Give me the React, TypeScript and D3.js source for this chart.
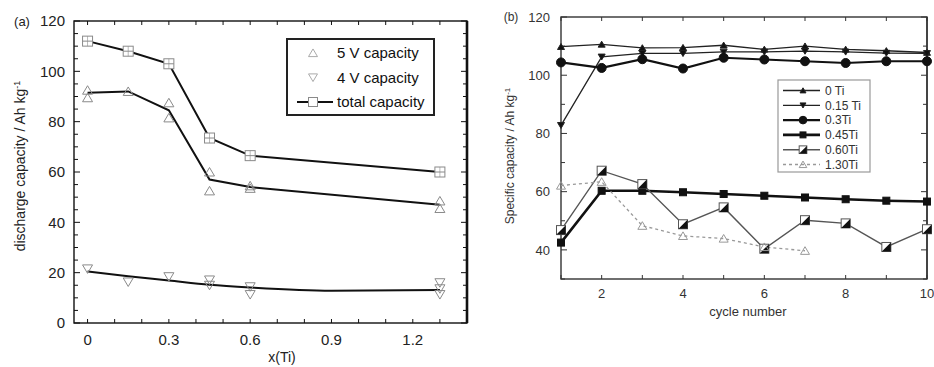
import React from "react";
import * as d3 from "d3";

// ---- Panel (a): discharge capacity vs Ti content ----
const tiContent = [0, 0.15, 0.3, 0.45, 0.6, 1.3];
const totalCapacity = [112, 108, 103, 73.5, 66.5, 60];
const fiveVFit = [91.5, 92, 84.5, 57, 54, 47];
const fiveVPointsX = [0, 0, 0.15, 0.3, 0.3, 0.45, 0.45, 0.6, 0.6, 1.3, 1.3];
const fiveVPointsY = [92.5, 89.5, 92, 87.5, 81.5, 60, 52.5, 54.5, 53.5, 48.5, 45.5];
const fourVFitX = [0, 0.15, 0.3, 0.45, 0.6, 0.9, 1.3];
const fourVFitY = [20.5, 18.6, 16.9, 15.2, 14.1, 12.8, 13.1];
const fourVPointsX = [0, 0.15, 0.3, 0.45, 0.45, 0.6, 0.6, 1.3, 1.3, 1.3];
const fourVPointsY = [21.5, 16.3, 18.4, 17.1, 15, 14.4, 11.3, 16, 13.6, 11.3];
const panelATicksX = [0, 0.3, 0.6, 0.9, 1.2];
const panelATicksY = [0, 20, 40, 60, 80, 100, 120];
const panelALegend = ["5 V capacity", "4 V capacity", "total capacity"];

// ---- Panel (b): specific capacity vs cycle number ----
const cycles = [1, 2, 3, 4, 5, 6, 7, 8, 9, 10];
const ti000 = [109.8, 110.6, 109.4, 109.5, 110.3, 108.9, 110, 108.9, 108.4, 107.8];
const ti015 = [82.8, 106.3, 107.5, 107.5, 108, 108, 108.3, 108, 107.6, 107.5];
const ti030 = [104.4, 102.5, 105.5, 102.3, 106, 105.4, 104.8, 104.2, 104.8, 104.8];
const ti045 = [42.5, 60.3, 60.3, 59.8, 59.2, 58.6, 58, 57.4, 56.9, 56.6];
const ti060 = [46.8, 67.2, 62.6, 48.8, 54.6, 40.4, 50.2, 49.1, 41, 47.1];
const cycles130 = [1, 2, 3, 4, 5, 6, 7];
const ti130 = [62.1, 63.4, 48.3, 44.8, 43.9, 41, 39.7];
const panelBTicksX = [2, 4, 6, 8, 10];
const panelBTicksY = [40, 60, 80, 100, 120];
const panelBLegend = ["0 Ti", "0.15 Ti", "0.3Ti", "0.45Ti", "0.60Ti", "1.30Ti"];

const FONT = "'Liberation Sans', Arial, Helvetica, sans-serif";

type Marker = "tri" | "triDown" | "circle" | "square" | "halfSquare" | "openTri";

function Mark({ kind, x, y, size, stroke, fill }: { kind: Marker; x: number; y: number; size: number; stroke: string; fill: string }) {
  const h = size / 2;
  if (kind === "circle") return <circle cx={x} cy={y} r={h} fill={fill} stroke={stroke} strokeWidth={1} />;
  if (kind === "square")
    return <rect x={x - h} y={y - h} width={size} height={size} fill={fill} stroke={stroke} strokeWidth={1} />;
  if (kind === "halfSquare")
    return (
      <g>
        <rect x={x - h} y={y - h} width={size} height={size} fill="#fff" stroke={stroke} strokeWidth={1} />
        <path d={`M${x + h},${y - h}L${x + h},${y + h}L${x - h},${y + h}Z`} fill="#111" />
      </g>
    );
  const down = kind === "triDown";
  const p = d3.path();
  if (down) {
    p.moveTo(x - h, y - h * 0.8);
    p.lineTo(x + h, y - h * 0.8);
    p.lineTo(x, y + h * 0.9);
  } else {
    p.moveTo(x - h, y + h * 0.8);
    p.lineTo(x + h, y + h * 0.8);
    p.lineTo(x, y - h * 0.9);
  }
  p.closePath();
  return <path d={p.toString()} fill={fill} stroke={stroke} strokeWidth={1} />;
}

function Frame({ x, y, left, right, top, bottom, xMinor, yMinor, stroke, rightWidth }: any) {
  const els: any[] = [];
  xMinor.forEach((t: number, i: number) => {
    const px = x(t);
    els.push(<line key={`xb${i}`} x1={px} x2={px} y1={bottom} y2={bottom - 4} stroke={stroke} />);
    els.push(<line key={`xt${i}`} x1={px} x2={px} y1={top} y2={top + 4} stroke={stroke} />);
  });
  yMinor.forEach((t: number, i: number) => {
    const py = y(t);
    const major = t % 20 === 0;
    const len = major ? 6 : 4;
    els.push(<line key={`yl${i}`} x1={left} x2={left + len} y1={py} y2={py} stroke={stroke} />);
    els.push(<line key={`yr${i}`} x1={right} x2={right - len} y1={py} y2={py} stroke={stroke} />);
  });
  return (
    <g>
      {els}
      <rect x={left} y={top} width={right - left} height={bottom - top} fill="none" stroke={stroke} strokeWidth={1.4} />
      <line x1={right} x2={right} y1={top} y2={bottom} stroke={stroke} strokeWidth={rightWidth} />
    </g>
  );
}

function PanelA() {
  const left = 74, right = 467, top = 21, bottom = 323;
  const x = d3.scaleLinear().domain([-0.05, 1.4]).range([left, right]);
  const y = d3.scaleLinear().domain([0, 120]).range([bottom, top]);
  const line = d3.line<[number, number]>().x((d) => x(d[0])).y((d) => y(d[1]));
  const smooth = d3
    .line<[number, number]>()
    .x((d) => x(d[0]))
    .y((d) => y(d[1]))
    .curve(d3.curveMonotoneX);
  const markerStroke = "#8a8a8a";
  const xMinor = d3.range(0, 1.35, 0.1);
  const yMinor = d3.range(0, 121, 5);
  const legX = 287, legY = 39;
  return (
    <g fontFamily={FONT}>
      <Frame x={x} y={y} left={left} right={right} top={top} bottom={bottom} xMinor={xMinor} yMinor={yMinor} stroke="#111" rightWidth={2.6} />
      {panelATicksY.map((t) => (
        <text key={t} x={65} y={y(t)} dy="0.36em" textAnchor="end" fontSize={15} fill="#222">
          {t}
        </text>
      ))}
      {panelATicksX.map((t) => (
        <text key={t} x={x(t)} y={345} textAnchor="middle" fontSize={15} fill="#222">
          {d3.format("")(t)}
        </text>
      ))}
      <text x={22} y={21} dy="0.36em" textAnchor="middle" fontSize={13} fill="#222">(a)</text>
      <text x={282} y={362} textAnchor="middle" fontSize={14} fill="#222">x(Ti)</text>
      <text transform="translate(25,166) rotate(-90)" textAnchor="middle" fontSize={14} fill="#222">
        discharge capacity / Ah kg<tspan dy={-5} fontSize={9}>-1</tspan>
      </text>

      <path d={line(tiContent.map((v, i) => [v, totalCapacity[i]]) as any) || ""} fill="none" stroke="#111" strokeWidth={2} />
      <path d={line(tiContent.map((v, i) => [v, fiveVFit[i]]) as any) || ""} fill="none" stroke="#111" strokeWidth={2} />
      <path d={smooth(fourVFitX.map((v, i) => [v, fourVFitY[i]]) as any) || ""} fill="none" stroke="#111" strokeWidth={2} />

      {fiveVPointsX.map((v, i) => (
        <Mark key={`a5${i}`} kind="tri" x={x(v)} y={y(fiveVPointsY[i])} size={10} stroke={markerStroke} fill="none" />
      ))}
      {fourVPointsX.map((v, i) => (
        <Mark key={`a4${i}`} kind="triDown" x={x(v)} y={y(fourVPointsY[i])} size={10} stroke={markerStroke} fill="none" />
      ))}
      {tiContent.map((v, i) => (
        <g key={`at${i}`}>
          <Mark kind="square" x={x(v)} y={y(totalCapacity[i])} size={10} stroke={markerStroke} fill="#fff" />
          <line x1={x(v) - 5} x2={x(v) + 5} y1={y(totalCapacity[i])} y2={y(totalCapacity[i])} stroke={markerStroke} />
          <line x1={x(v)} x2={x(v)} y1={y(totalCapacity[i]) - 5} y2={y(totalCapacity[i]) + 5} stroke={markerStroke} strokeWidth={0.6} />
        </g>
      ))}

      <rect x={legX} y={legY} width={147} height={76} fill="#fff" stroke="#222" strokeWidth={2} />
      {panelALegend.map((name, i) => {
        const cy = legY + 14 + i * 24.5;
        const mx = 313;
        return (
          <g key={name}>
            {i === 2 && <line x1={297} x2={333} y1={cy} y2={cy} stroke="#111" strokeWidth={2} />}
            {i === 0 && <Mark kind="tri" x={mx} y={cy} size={9} stroke="#aaa" fill="none" />}
            {i === 1 && <Mark kind="triDown" x={mx} y={cy} size={9} stroke="#aaa" fill="none" />}
            {i === 2 && <Mark kind="square" x={mx} y={cy} size={9} stroke={markerStroke} fill="#fff" />}
            <text x={337} y={cy} dy="0.36em" fontSize={15} fill="#111">{name}</text>
          </g>
        );
      })}
    </g>
  );
}

function PanelB() {
  const left = 561, right = 927, top = 17, bottom = 279;
  const x = d3.scaleLinear().domain([1, 10]).range([left, right]);
  const y = d3.scaleLinear().domain([30, 120]).range([bottom, top]);
  const line = d3.line<[number, number]>().x((d) => x(d[0])).y((d) => y(d[1]));
  const series = [
    { name: panelBLegend[0], xs: cycles, ys: ti000, kind: "tri" as Marker, size: 7, stroke: "#222", fill: "#111", width: 1.3, dash: "" },
    { name: panelBLegend[1], xs: cycles, ys: ti015, kind: "triDown" as Marker, size: 7, stroke: "#222", fill: "#111", width: 1.3, dash: "" },
    { name: panelBLegend[2], xs: cycles, ys: ti030, kind: "circle" as Marker, size: 9, stroke: "#111", fill: "#111", width: 2.2, dash: "" },
    { name: panelBLegend[3], xs: cycles, ys: ti045, kind: "square" as Marker, size: 7, stroke: "#111", fill: "#111", width: 2.6, dash: "" },
    { name: panelBLegend[4], xs: cycles, ys: ti060, kind: "halfSquare" as Marker, size: 9, stroke: "#555", fill: "#fff", width: 1.4, dash: "" },
    { name: panelBLegend[5], xs: cycles130, ys: ti130, kind: "openTri" as Marker, size: 9, stroke: "#999", fill: "none", width: 1.3, dash: "3,3" },
  ];
  const xMinor = d3.range(1, 11, 1);
  const yMinor = d3.range(30, 121, 10);
  const legX = 778, legY = 80;
  return (
    <g fontFamily={FONT}>
      <defs>
        <clipPath id="clipB">
          <rect x={left - 8} y={top - 8} width={right - left + 16} height={bottom - top + 16} />
        </clipPath>
      </defs>
      <Frame x={x} y={y} left={left} right={right} top={top} bottom={bottom} xMinor={xMinor} yMinor={yMinor} stroke="#333" rightWidth={1.4} />
      {panelBTicksY.map((t) => (
        <text key={t} x={550} y={y(t)} dy="0.36em" textAnchor="end" fontSize={13} fill="#333">
          {t}
        </text>
      ))}
      {panelBTicksX.map((t) => (
        <text key={t} x={x(t)} y={298} textAnchor="middle" fontSize={13} fill="#333">
          {t}
        </text>
      ))}
      <text x={511} y={17} dy="0.36em" textAnchor="middle" fontSize={12} fill="#333">(b)</text>
      <text x={748} y={316} textAnchor="middle" fontSize={13} fill="#333">cycle number</text>
      <text transform="translate(514,156) rotate(-90)" textAnchor="middle" fontSize={12} fill="#333">
        Specific capacity / Ah kg<tspan dy={-4} fontSize={8}>-1</tspan>
      </text>

      <g clipPath="url(#clipB)">
        {series.map((s) => (
          <path
            key={s.name}
            d={line(s.xs.map((v, i) => [v, s.ys[i]]) as any) || ""}
            fill="none"
            stroke={s.stroke}
            strokeWidth={s.width}
            strokeDasharray={s.dash || undefined}
          />
        ))}
        {series.map((s) =>
          s.xs.map((v, i) => (
            <Mark key={`${s.name}${i}`} kind={s.kind === "openTri" ? "tri" : s.kind} x={x(v)} y={y(s.ys[i])} size={s.size} stroke={s.stroke} fill={s.fill} />
          ))
        )}
      </g>

      <rect x={legX} y={legY} width={92} height={92} fill="#fff" stroke="#999" strokeWidth={1.2} />
      {series.map((s, i) => {
        const cy = legY + 10.5 + i * 14.8;
        return (
          <g key={`lg${s.name}`}>
            <line x1={783} x2={820} y1={cy} y2={cy} stroke={s.stroke} strokeWidth={s.width} strokeDasharray={s.dash || undefined} />
            <Mark kind={s.kind === "openTri" ? "tri" : s.kind} x={803} y={cy} size={s.size * 0.85} stroke={s.stroke} fill={s.fill} />
            <text x={825} y={cy} dy="0.36em" fontSize={12} fill="#333">{s.name}</text>
          </g>
        );
      })}
    </g>
  );
}

export default function App() {
  return (
    <svg
      width={934}
      height={367}
      viewBox="0 0 934 367"
      style={{ position: "absolute", left: 0, top: 0, background: "#fff" }}
    >
      <rect width={934} height={367} fill="#fff" />
      <PanelA />
      <PanelB />
    </svg>
  );
}
